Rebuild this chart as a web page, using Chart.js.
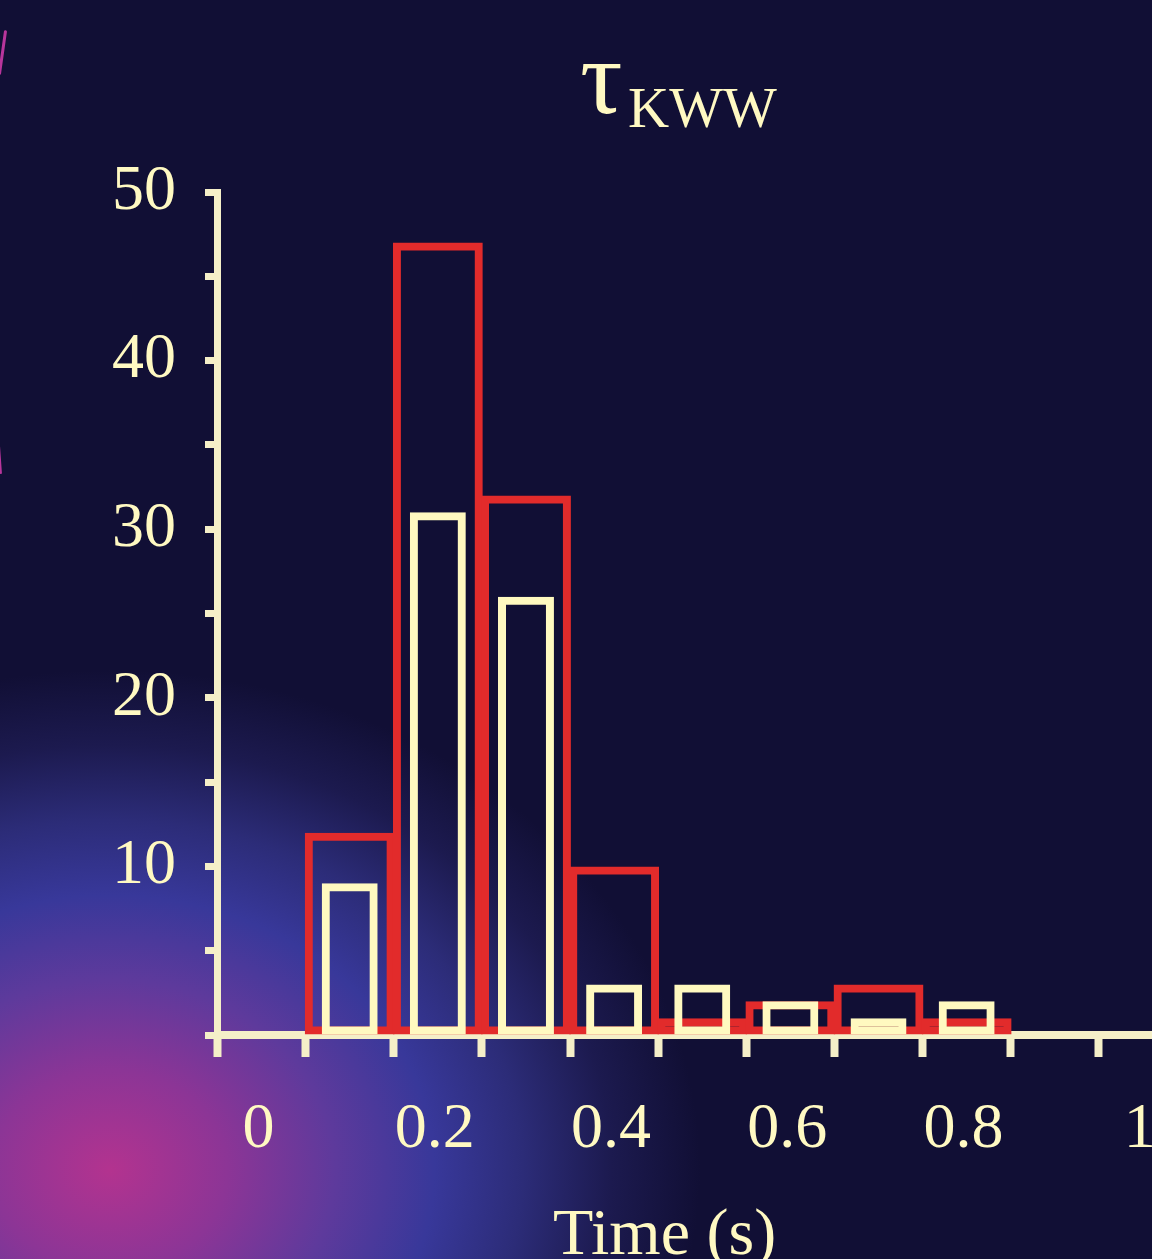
<!DOCTYPE html>
<html>
<head>
<meta charset="utf-8">
<title>τKWW histogram</title>
<script src="https://cdn.jsdelivr.net/npm/chart.js@4.4.1/dist/chart.umd.min.js"></script>
<style>
  html, body {
    margin: 0;
    padding: 0;
    width: 1152px;
    height: 1259px;
    overflow: hidden;
  }
  body {
    position: relative;
    background:
      radial-gradient(ellipse 590px 500px at 110px 1170px,
        #b3338f 0%, #8c3596 20%, #5e3a9c 38%, #38389a 55%, #2c2c78 70%, #1c1a4f 85%, rgba(17,15,53,0) 100%),
      #110f35;
    font-family: "Liberation Serif", "DejaVu Serif", serif;
    color: #fff9c2;
  }
  #wrap {
    position: absolute;
    left: 0;
    top: 0;
    width: 1222px;
    height: 1259px;
  }
  .txt {
    position: absolute;
    white-space: nowrap;
    color: #fff9c2;
  }
  #tau { font-size: 106px; line-height: 106px; left: 580px; top: 25px; }
  #sub { font-size: 57px; line-height: 57px; left: 628px; top: 79px; }
  #xlabel { font-size: 66px; line-height: 66px; left: 553px; top: 1199px; }
  .arc {
    position: absolute;
    background: #b8359c;
    border-radius: 2px;
  }
</style>
</head>
<body>
<div class="arc" style="left:1px;top:30px;width:3px;height:45px;transform:rotate(8deg);"></div>
<div class="arc" style="left:-1px;top:446px;width:2px;height:28px;transform:rotate(-4deg);"></div>
<div id="wrap"><canvas id="chart" width="1222" height="1259"></canvas></div>
<div class="txt" id="tau">τ</div>
<div class="txt" id="sub">KWW</div>
<div class="txt" id="xlabel">Time (s)</div>
<script>
// Histogram bins (centres, width 0.1 s)
const binCenters = [0.15, 0.25, 0.35, 0.45, 0.55, 0.65, 0.75, 0.85];
// Counts per bin
const countsRed   = [12, 47, 32, 10, 1, 2, 3, 1];
const countsCream = [9, 31, 26, 3, 3, 2, 1, 2];
// Axis ticks
const xTickValues = [0, 0.1, 0.2, 0.3, 0.4, 0.5, 0.6, 0.7, 0.8, 0.9, 1.0, 1.1];
const xTickLabels = ['0', '', '0.2', '', '0.4', '', '0.6', '', '0.8', '', '1', ''];
const yTickValues = [0, 5, 10, 15, 20, 25, 30, 35, 40, 45, 50];
const yTickLabels = ['', '', '10', '', '20', '', '30', '', '40', '', '50'];

const RED = '#e22b2b';
const CREAM = '#fff9c0';
const AXIS = '#f5efc8';
const TEXT = '#fff9c2';
const tickFont = { family: '"Liberation Serif", serif', size: 64 };

const toPoints = (vals) => binCenters.map((x, i) => ({ x: x, y: vals[i] }));

new Chart(document.getElementById('chart'), {
  type: 'bar',
  data: {
    datasets: [
      {
        label: 'cream',
        data: toPoints(countsCream),
        backgroundColor: 'rgba(0,0,0,0)',
        borderColor: CREAM,
        borderWidth: 8,
        borderSkipped: false,
        grouped: false,
        barPercentage: 0.635,
        categoryPercentage: 1,
        order: 0
      },
      {
        label: 'red',
        data: toPoints(countsRed),
        backgroundColor: 'rgba(0,0,0,0)',
        borderColor: RED,
        borderWidth: 8,
        borderSkipped: false,
        grouped: false,
        barPercentage: 1.02,
        categoryPercentage: 1,
        order: 1
      }
    ]
  },
  options: {
    responsive: false,
    animation: false,
    devicePixelRatio: 1,
    layout: { padding: { left: 0, top: 192, right: 12, bottom: 0 } },
    plugins: {
      legend: { display: false },
      tooltip: { enabled: false },
      title: { display: false }
    },
    scales: {
      x: {
        type: 'linear',
        min: 0,
        max: 1.1,
        offset: false,
        grid: {
          offset: false,
          drawOnChartArea: false,
          drawTicks: true,
          tickLength: 22,
          tickWidth: 8,
          tickColor: AXIS,
          color: AXIS
        },
        border: { display: true, color: AXIS, width: 8 },
        afterBuildTicks: (s) => { s.ticks = xTickValues.map(v => ({ value: v })); },
        afterFit: (s) => { s.height = 224; },
        ticks: {
          autoSkip: false,
          maxRotation: 0,
          minRotation: 0,
          color: TEXT,
          font: tickFont,
          padding: 35,
          labelOffset: 41,
          callback: (v, i) => xTickLabels[i]
        }
      },
      y: {
        type: 'linear',
        min: 0,
        max: 50,
        grid: {
          drawOnChartArea: false,
          drawTicks: true,
          tickLength: 12.5,
          tickWidth: 7,
          tickColor: AXIS,
          color: AXIS
        },
        border: { display: true, color: AXIS, width: 7 },
        afterBuildTicks: (s) => { s.ticks = yTickValues.map(v => ({ value: v })); },
        afterFit: (s) => { s.width = 217.5; },
        ticks: {
          autoSkip: false,
          color: TEXT,
          font: tickFont,
          padding: 29,
          callback: (v, i) => yTickLabels[i]
        }
      }
    }
  }
});
</script>
</body>
</html>
